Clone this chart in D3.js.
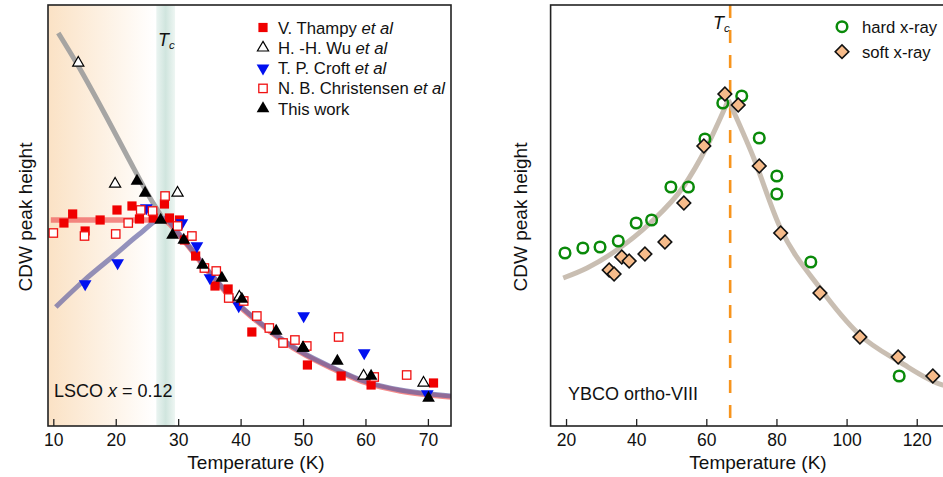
<!DOCTYPE html>
<html>
<head>
<meta charset="utf-8">
<script src="https://cdn.jsdelivr.net/npm/d3@7"></script>
<style>
  body { margin: 0; background: #fff; }
  svg text { font-family: "Liberation Sans", Arial, sans-serif; fill: #111; }
</style>
</head>
<body>
<svg id="chart" width="943" height="477"></svg>
<script>
// ---- left panel (LSCO x = 0.12), y in arbitrary units ----
var thampy = [[11.7,203],[13.1,212],[15.1,195],[17.5,206],[20.2,216],[22.6,220],[23.8,207],[26,208],
	[27.8,222],[28.6,208],[30.2,206],[31,186],[32.8,170],[35.9,140],[38,137],[41.8,94],[50.7,61],
	[56.1,50],[60.9,41],[70.9,43]];
var wu = [[14,363],[19.9,242],[29.9,233],[39.8,129],[50,78],[59.7,50],[69.3,43]];
var croft = [[15.1,142],[20.3,163],[24.9,218],[30.6,203],[33,180],[35.1,148],[39.7,120],[50.1,110],
	[59.8,73],[69.9,32]];
var christensen = [[10,193],[15,190],[20,192],[22,203],[24,216],[25.9,215],[27.9,230],[29.9,200],
	[32.2,190],[34.2,158],[36.1,155],[38.1,128],[40.5,125],[42.6,110],[44.6,98],[46.8,83],[48.7,86],
	[50.6,80],[55.7,89],[61.4,49],[66.6,51]];
var thisWork = [[23.4,245],[24.7,233],[27.2,206],[29.1,191],[30.9,186],[33.9,161],[37,148],[40.2,127],
	[45.7,95],[50,78],[55.5,65],[60.9,50],[70.1,28]];

var decayFit = [[30.8,187],[34.6,157],[38.8,127],[44.2,98],[49.5,75],[54.9,58],[60.2,44],[65.6,36],[73.7,30]];
var grayFit = [[10.8,393],[14,360],[18.6,308],[22,268],[25.5,228],[27.3,210]];
var redFit = [[9.6,207],[15,207],[20,207],[25,207],[27.5,207]].concat(decayFit);
var blueFit = [[10.4,119],[15,146],[20,172],[24,193],[27.5,208]].concat(decayFit);

var xTicksLeft = [10, 20, 30, 40, 50, 60, 70];
var tcLeft = [26.5, 29.5];

// ---- right panel (YBCO ortho-VIII) ----
var hardXray = [[19.7,173],[24.8,178],[29.7,179],[34.9,185],[40,203],[44.4,206],[49.9,239],[54.9,239],
	[59.6,287],[64.7,323],[70.1,330],[75.1,288],[80.1,250],[80.1,232],[89.8,164],[115,50]];
var softXray = [[32.3,156],[33.7,152],[35.9,169],[38,165],[42.5,172],[48.2,184],[53.6,223],[59.3,280],
	[65.3,332],[69.1,321],[75.1,260],[81.2,193],[92.4,133],[103.8,89],[114.7,69],[124.6,50]];
var ybcoFitLow = [[19.2,148],[26,158],[34.5,176],[44,203],[53.4,239],[60.1,279],[66.3,326]];
var ybcoFitHigh = [[66.3,326],[73.4,269],[81,199],[92.4,138],[103.8,91],[115.2,64],[127.5,41],[130,39]];

var xTicksRight = [20, 40, 60, 80, 100, 120];
var tcRight = 66.8;

var svg = d3.select('#chart');
var defs = svg.append('defs');

var topY = 5, bottomY = 426;

var xL = d3.scaleLinear().domain([9.15, 73.7]).range([48, 451]);
var yL = d3.scaleLinear().domain([0, 421]).range([bottomY, topY]);
var xR = d3.scaleLinear().domain([15.6, 130]).range([550.6, 951.8]);
var yR = yL;

// gradients
var orange = defs.append('linearGradient').attr('id', 'orangeGrad');
orange.append('stop').attr('offset', '0%').attr('stop-color', '#fbe2c5');
orange.append('stop').attr('offset', '100%').attr('stop-color', '#ffffff');

var teal = defs.append('linearGradient').attr('id', 'tealGrad');
teal.append('stop').attr('offset', '0%').attr('stop-color', '#eaf4f1');
teal.append('stop').attr('offset', '50%').attr('stop-color', '#d0e5de');
teal.append('stop').attr('offset', '100%').attr('stop-color', '#eef6f3');

defs.append('clipPath').attr('id', 'clipL').append('rect')
	.attr('x', 48).attr('y', topY).attr('width', 403).attr('height', bottomY - topY);
defs.append('clipPath').attr('id', 'clipR').append('rect')
	.attr('x', 550.6).attr('y', topY).attr('width', 401).attr('height', bottomY - topY);

function lineGen(x, y) {
	return d3.line().x(function(d) { return x(d[0]); }).y(function(d) { return y(d[1]); })
		.curve(d3.curveMonotoneX);
}

function drawMarkers(g, data, x, y, kind) {
	var sel = g.selectAll(null).data(data).enter();
	if (kind == 'filledSquare') {
		sel.append('rect').attr('x', function(d) { return x(d[0]) - 4.6; }).attr('y', function(d) { return y(d[1]) - 4.6; })
			.attr('width', 9.2).attr('height', 9.2).attr('fill', '#f00000');
	} else if (kind == 'openSquare') {
		sel.append('rect').attr('x', function(d) { return x(d[0]) - 4.2; }).attr('y', function(d) { return y(d[1]) - 4.2; })
			.attr('width', 8.4).attr('height', 8.4).attr('fill', '#fff').attr('stroke', '#f01010').attr('stroke-width', 1.3);
	} else if (kind == 'openTri' || kind == 'filledTri' || kind == 'downTri') {
		var sym = d3.symbol().type(d3.symbolTriangle).size(kind == 'openTri' ? 54 : 70);
		sel.append('path').attr('d', sym)
			.attr('transform', function(d) { return 'translate(' + x(d[0]) + ',' + y(d[1]) + ')' + (kind == 'downTri' ? ' rotate(180)' : ''); })
			.attr('fill', kind == 'openTri' ? '#fff' : (kind == 'downTri' ? '#0010f0' : '#000'))
			.attr('stroke', kind == 'openTri' ? '#000' : 'none').attr('stroke-width', 1.2);
	} else if (kind == 'circle') {
		sel.append('circle').attr('cx', function(d) { return x(d[0]); }).attr('cy', function(d) { return y(d[1]); })
			.attr('r', 5.3).attr('fill', 'none').attr('stroke', '#0a8a0a').attr('stroke-width', 2.5);
	} else if (kind == 'diamond') {
		sel.append('rect').attr('x', -4.8).attr('y', -4.8).attr('width', 9.6).attr('height', 9.6)
			.attr('transform', function(d) { return 'translate(' + x(d[0]) + ',' + y(d[1]) + ') rotate(45)'; })
			.attr('fill', '#f6bb8a').attr('stroke', '#111').attr('stroke-width', 1.6);
	}
}

function drawAxis(x, ticks, left, right, titleX) {
	var ax = svg.append('g').attr('transform', 'translate(0,' + bottomY + ')')
		.call(d3.axisBottom(x).tickValues(ticks).tickSize(-7).tickPadding(8).tickSizeOuter(0));
	ax.select('.domain').remove();
	ax.selectAll('.tick line').attr('stroke', '#222').attr('stroke-width', 1.3);
	ax.selectAll('.tick text').attr('font-size', 17.5).attr('fill', '#111')
		.attr('font-family', '"Liberation Sans", Arial, sans-serif');
	svg.append('rect').attr('x', left).attr('y', topY).attr('width', right - left).attr('height', bottomY - topY)
		.attr('fill', 'none').attr('stroke', '#222').attr('stroke-width', 1.6);
	svg.append('text').attr('x', titleX).attr('y', 469).attr('text-anchor', 'middle')
		.attr('font-size', 19).text('Temperature (K)');
}

function tcLabel(x, y) {
	var t = svg.append('text').attr('x', x).attr('y', y).attr('font-size', 18);
	t.append('tspan').attr('font-style', 'italic').text('T');
	t.append('tspan').attr('font-style', 'italic').attr('font-size', 11.5).attr('dy', 3).text('c');
}

function yTitle(x) {
	svg.append('text').attr('transform', 'translate(' + x + ',217) rotate(-90)')
		.attr('text-anchor', 'middle').attr('font-size', 19).text('CDW peak height');
}

// ================= left panel =================
var gL = svg.append('g').attr('clip-path', 'url(#clipL)');
gL.append('rect').attr('x', 48).attr('y', topY).attr('width', xL(26.3) - 48).attr('height', bottomY - topY)
	.attr('fill', 'url(#orangeGrad)');
gL.append('rect').attr('x', xL(tcLeft[0])).attr('y', topY).attr('width', xL(tcLeft[1]) - xL(tcLeft[0]))
	.attr('height', bottomY - topY).attr('fill', 'url(#tealGrad)');

gL.append('path').datum(grayFit).attr('d', lineGen(xL, yL)).attr('fill', 'none')
	.attr('stroke', '#9c9c9c').attr('stroke-width', 5).attr('stroke-opacity', 0.9);
gL.append('path').datum(redFit).attr('d', lineGen(xL, yL)).attr('fill', 'none')
	.attr('stroke', '#f05a5a').attr('stroke-width', 5.5).attr('stroke-opacity', 0.7)
	.attr('transform', 'translate(0,1)');
gL.append('path').datum(blueFit).attr('d', lineGen(xL, yL)).attr('fill', 'none')
	.attr('stroke', '#5a5aa0').attr('stroke-width', 5).attr('stroke-opacity', 0.65);

drawMarkers(gL, thampy, xL, yL, 'filledSquare');
drawMarkers(gL, croft, xL, yL, 'downTri');
drawMarkers(gL, christensen, xL, yL, 'openSquare');
drawMarkers(gL, wu, xL, yL, 'openTri');
drawMarkers(gL, thisWork, xL, yL, 'filledTri');

drawAxis(xL, xTicksLeft, 48, 451, 256);
yTitle(32);
tcLabel(158, 46);

var lscoText = svg.append('text').attr('x', 54).attr('y', 397).attr('font-size', 18);
lscoText.append('tspan').text('LSCO ');
lscoText.append('tspan').attr('font-style', 'italic').text('x');
lscoText.append('tspan').text(' = 0.12');

// legend
var legendL = [
	{ name: 'V. Thampy ', kind: 'filledSquare' },
	{ name: 'H. -H. Wu ', kind: 'openTri' },
	{ name: 'T. P. Croft ', kind: 'downTri' },
	{ name: 'N. B. Christensen ', kind: 'openSquare' },
	{ name: 'This work', kind: 'filledTri', noEtAl: true }
];
var lg = svg.append('g');
legendL.forEach(function(item, i) {
	var yy = 27.5 + i * 20.3;
	drawMarkers(lg, [[0, 0]], function() { return 263; }, function() { return yy; }, item.kind);
	var t = lg.append('text').attr('x', 278).attr('y', yy + 6).attr('font-size', 16.7);
	t.append('tspan').text(item.name);
	if (!item.noEtAl) t.append('tspan').attr('font-style', 'italic').text('et al');
});

// ================= right panel =================
var gR = svg.append('g').attr('clip-path', 'url(#clipR)');
gR.append('line').attr('x1', xR(tcRight)).attr('x2', xR(tcRight)).attr('y1', topY).attr('y2', bottomY)
	.attr('stroke', '#f7941d').attr('stroke-width', 2.6).attr('stroke-dasharray', '13,12');
gR.append('path').datum(ybcoFitLow).attr('d', lineGen(xR, yR)).attr('fill', 'none')
	.attr('stroke', '#c3b7aa').attr('stroke-width', 5).attr('stroke-opacity', 0.9);
gR.append('path').datum(ybcoFitHigh).attr('d', lineGen(xR, yR)).attr('fill', 'none')
	.attr('stroke', '#c3b7aa').attr('stroke-width', 5).attr('stroke-opacity', 0.9);

drawMarkers(gR, hardXray, xR, yR, 'circle');
drawMarkers(gR, softXray, xR, yR, 'diamond');

drawAxis(xR, xTicksRight, 550.6, 951.8, 758);
yTitle(527);
tcLabel(713, 29);

svg.append('text').attr('x', 568).attr('y', 400).attr('font-size', 18).text('YBCO ortho-VIII');

var legendR = [{ name: 'hard x-ray', kind: 'circle' }, { name: 'soft x-ray', kind: 'diamond' }];
var lgR = svg.append('g');
legendR.forEach(function(item, i) {
	var yy = 26.7 + i * 25;
	drawMarkers(lgR, [[0, 0]], function() { return 842; }, function() { return yy; }, item.kind);
	lgR.append('text').attr('x', 862).attr('y', yy + 6).attr('font-size', 16.7).text(item.name);
});
</script>
</body>
</html>
